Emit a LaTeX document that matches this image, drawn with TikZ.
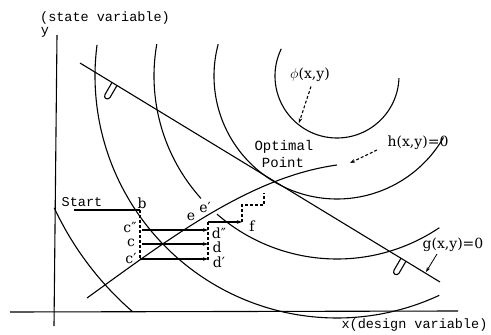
\documentclass[tikz,border=0pt]{standalone}
\usepackage{fontspec}
\setmainfont{DejaVu Serif}
\newfontfamily\monof{Liberation Mono}
\usetikzlibrary{arrows.meta}
\tikzset{
  lbl/.style={font=\fontsize{14}{14}\selectfont, inner sep=0pt},
  mono/.style={font=\monof\fontsize{13.5}{13.5}\selectfont, inner sep=0pt},
  dsh/.style={dash pattern=on 3pt off 2pt},
  tip/.style={-{Stealth[length=5pt,width=3.5pt]}},
  shoe/.pic={\draw (0,0) -- (-7,12) .. controls (-9,16) and (-4,18) .. (-2,15) -- (5,3);}
}
\begin{document}
\begin{tikzpicture}[x=1pt,y=-1pt,line width=1.1pt]
\useasboundingbox (0,0) rectangle (491,335);
% axes
\coordinate (ytop) at (57,35);
\coordinate (ybot) at (54,326);
\coordinate (xl) at (10,312);
\coordinate (xr) at (458,311);
\draw (ytop) -- (ybot);
\draw (xl) -- (xr);
\node[mono] (ylab) at (45,32) {y};
\node[mono] (stv) at (105,18) {(state variable)};
\node[mono,anchor=west] (xlab) at (341,325) {x(design variable)};
% contours of objective
\draw plot[domain=2:206,samples=90] ({337+62*cos(\x)},{76+62*sin(\x)});
\draw plot[domain=30:195,samples=120] ({337+123*cos(\x)},{76+123*sin(\x)});
\draw plot[domain=56:131,samples=100] ({337+183*cos(\x)},{76+183*sin(\x)});
\draw plot[domain=138:190,samples=80] ({337+183*cos(\x)},{76+183*sin(\x)});
\draw plot[domain=65:187.4,samples=140] ({337+242*cos(\x)},{76+242*sin(\x)});
\draw plot[domain=131:155,samples=40] ({337+312*cos(\x)},{76+312*sin(\x)});
% constraint g
\coordinate (g1) at (80,63);
\coordinate (g2) at (440,282);
\draw (g1) -- (g2);
\pic at (112,82.5) {shoe};
\pic at (401,258.2) {shoe};
% state equation h
\coordinate (h1) at (87,298);
\coordinate (h2) at (337,165);
\draw (h1) .. controls (170,238) and (250,177) .. (h2);
% labels
\node[lbl] (phi) at (310,75) {$\phi$(x,y)};
\coordinate (phiend) at (299,123);
\draw[dsh,tip] (phi.south) ++(1,4) -- (phiend);
\node[lbl] (hlab) at (418,143) {h(x,y)=0};
\coordinate (hend) at (350,163);
\draw[dsh,tip] (377,150) -- (hend);
\node[lbl] (glab) at (453,245) {g(x,y)=0};
\coordinate (gend) at (426,272);
\draw[tip,line width=0.8pt] (437,254) -- (gend);
\node[mono,font=\monof\fontsize{14}{14}\selectfont] (opt) at (284,147) {Optimal};
\node[mono,font=\monof\fontsize{14}{14}\selectfont] (pt) at (283,162) {Point};
% step path
\node[mono] (start) at (82,202) {Start};
\coordinate (s0) at (74,210);
\coordinate (b) at (140,210);
\coordinate (cpp) at (142,230);
\coordinate (c) at (142,244);
\coordinate (cp) at (140,259);
\coordinate (dpp) at (208,230);
\coordinate (d) at (208,244);
\coordinate (dp) at (208,259);
\coordinate (e0) at (208,222);
\coordinate (f1) at (242,222);
\coordinate (f2) at (242,205);
\coordinate (f3) at (264,205);
\coordinate (f4) at (264,193);
\draw (s0) -- (b);
\draw[dsh] (b) -- (140,260);
\draw[tip] (cpp) -- (dpp);
\draw[tip] (c) -- (d);
\draw[tip] (cp) -- (dp);
\draw[dsh] (e0) -- (208,260);
\draw[tip] (e0) -- (f1);
\draw[dsh] (f1) -- (f2) -- (f3) -- (f4);
\node[lbl] (lb) at (142,203) {b};
\node[lbl] (lcpp) at (130,227) {c″};
\node[lbl] (lc) at (131,243) {c};
\node[lbl] (lcp) at (131,258) {c′};
\node[lbl] (ldpp) at (219,233) {d″};
\node[lbl] (ld) at (217,247) {d};
\node[lbl] (ldp) at (219,262) {d′};
\node[lbl] (le) at (191,217) {e};
\node[lbl] (lep) at (205,207) {e′};
\node[lbl] (lf) at (252,226) {f};
\end{tikzpicture}
\end{document}
